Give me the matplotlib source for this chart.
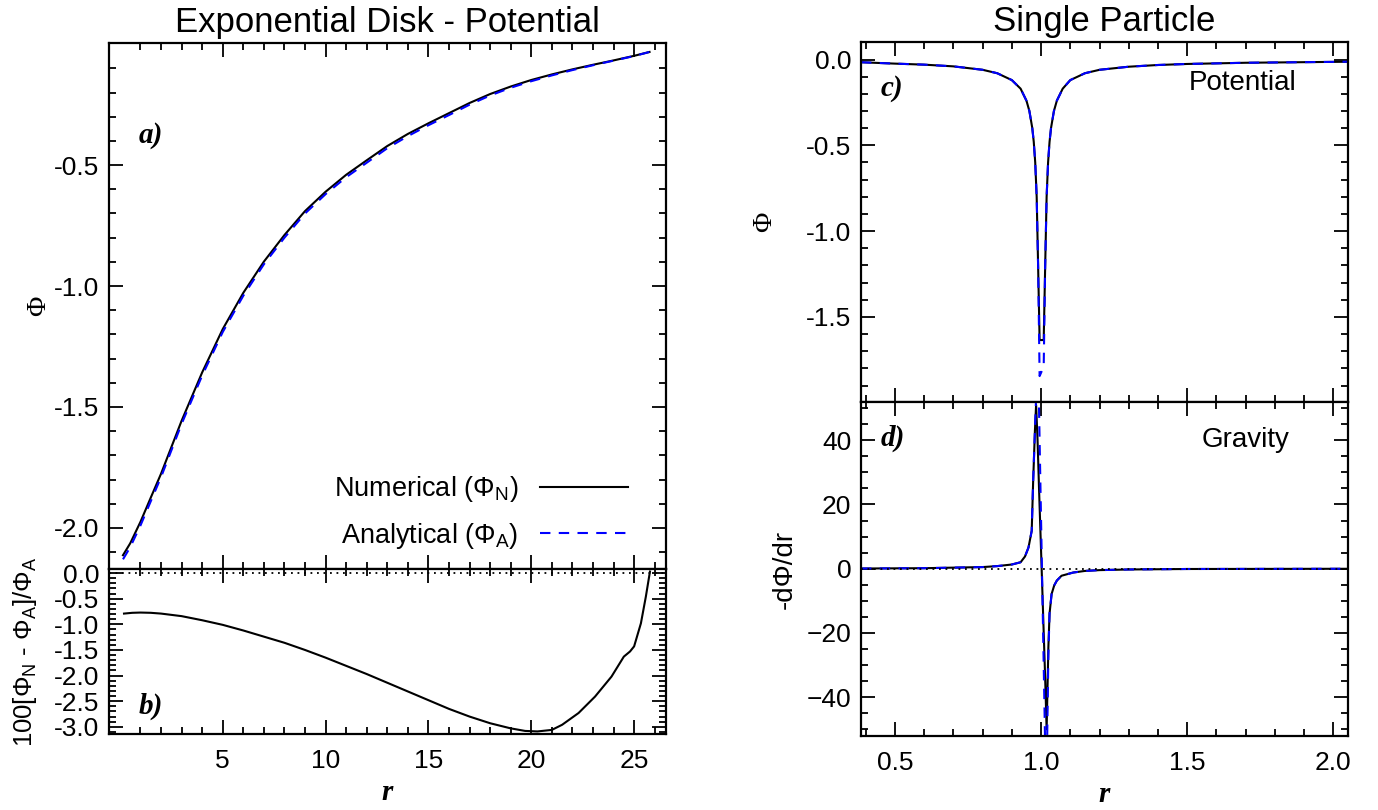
import numpy as np
import matplotlib
matplotlib.use("Agg")
import matplotlib.pyplot as plt
from matplotlib.ticker import FixedLocator, MultipleLocator, FormatStrFormatter

plt.rcParams["font.family"] = ["Liberation Sans", "DejaVu Sans"]
plt.rcParams["mathtext.fontset"] = "custom"
plt.rcParams["mathtext.rm"] = "Liberation Sans"
plt.rcParams["axes.linewidth"] = 1.6

# --- exponential disk: potential (a) and relative error (b) ---
r_disk = [0.15, 0.5, 1.0, 1.5, 2.0, 3.0, 4.0, 5.0, 6.0, 7.0, 8.0, 9.0, 10.0,
          11.0, 12.0, 13.0, 14.0, 15.0, 16.0, 17.0, 18.0, 19.0, 20.0, 21.0,
          22.0, 23.0, 24.0, 25.0, 25.75]
phi_analytical = [-2.13, -2.08, -1.99, -1.89, -1.79, -1.57, -1.37, -1.19, -1.04,
                  -0.91, -0.80, -0.70, -0.62, -0.55, -0.49, -0.43, -0.38, -0.335,
                  -0.293, -0.25, -0.212, -0.18, -0.153, -0.129, -0.107, -0.087,
                  -0.068, -0.049, -0.032]
phi_numerical = [-2.113, -2.064, -1.975, -1.875, -1.776, -1.557, -1.357, -1.178,
                 -1.028, -0.899, -0.789, -0.690, -0.610, -0.540, -0.480, -0.421,
                 -0.371, -0.327, -0.285, -0.243, -0.206, -0.175, -0.148, -0.125,
                 -0.104, -0.085, -0.067, -0.048, -0.032]

r_err = [0.2, 0.6, 1.0, 1.5, 2.0, 3.0, 4.0, 5.0, 6.0, 7.0, 8.0, 9.0, 10.0, 11.0,
         12.0, 13.0, 14.0, 15.0, 16.0, 17.0, 18.0, 19.0, 19.7, 20.3, 21.0, 21.5,
         22.3, 23.1, 23.9, 24.5, 24.8, 25.0, 25.33, 25.57, 25.77]
err_pct = [-0.79, -0.775, -0.77, -0.775, -0.79, -0.84, -0.92, -1.01, -1.12,
           -1.24, -1.36, -1.50, -1.65, -1.81, -1.97, -2.14, -2.31, -2.48, -2.65,
           -2.80, -2.93, -3.03, -3.08, -3.09, -3.06, -2.96, -2.73, -2.41, -2.02,
           -1.63, -1.53, -1.43, -0.98, -0.46, 0.03]

# --- single particle: potential (c) and gravity (d) ---
r_pt = [0.384, 0.5, 0.6, 0.7, 0.8, 0.85, 0.9, 0.93, 0.95, 0.96, 0.97, 0.975,
        0.98, 0.985, 0.99, 0.995, 1.009, 1.014, 1.019, 1.024, 1.029, 1.034,
        1.044, 1.054, 1.074, 1.1, 1.15, 1.2, 1.3, 1.4, 1.5, 1.7, 2.05]
phi_pt_num = [-0.016, -0.024, -0.03, -0.04, -0.06, -0.08, -0.12, -0.17, -0.24,
              -0.30, -0.40, -0.48, -0.60, -0.80, -1.21, -1.635, -1.635, -1.21,
              -0.80, -0.60, -0.48, -0.40, -0.30, -0.24, -0.17, -0.12, -0.08,
              -0.06, -0.042, -0.032, -0.026, -0.019, -0.013]
phi_pt_ana = [-0.016, -0.024, -0.03, -0.04, -0.06, -0.08, -0.12, -0.17, -0.24,
              -0.30, -0.40, -0.48, -0.60, -0.80, -1.21, -1.845, -1.79, -1.21,
              -0.80, -0.60, -0.48, -0.40, -0.30, -0.24, -0.17, -0.12, -0.08,
              -0.06, -0.042, -0.032, -0.026, -0.019, -0.013]

r_grav = [0.384, 0.6, 0.8, 0.85, 0.9, 0.93, 0.945, 0.957, 0.968, 0.973, 0.979,
          0.983, 0.988, 0.993, 1.002, 1.008, 1.014, 1.019, 1.025, 1.029, 1.036,
          1.045, 1.054, 1.07, 1.11, 1.15, 1.2, 1.3, 1.5, 2.05]
grav_num = [0.05, 0.15, 0.5, 0.8, 1.3, 2.0, 3.8, 6.6, 11.8, 27.4, 43.0, 51.0,
            40.0, 25.0, 0.0, -17.0, -34.0, -50.0, -24.5, -14.0, -7.9, -5.2,
            -3.7, -2.2, -1.2, -0.7, -0.45, -0.25, -0.1, -0.03]
r_grav_ana = [0.384, 0.6, 0.8, 0.85, 0.9, 0.93, 0.945, 0.957, 0.968, 0.973,
              0.979, 0.984, 0.99, 1.003, 1.016, 1.021, 1.025, 1.029, 1.036,
              1.045, 1.054, 1.07, 1.11, 1.15, 1.2, 1.3, 1.5, 2.05]
grav_ana = [0.05, 0.15, 0.5, 0.8, 1.3, 2.0, 3.8, 6.6, 11.8, 27.4, 43.0, 56.0,
            65.0, 0.0, -65.0, -52.0, -27.0, -14.0, -7.9, -5.2, -3.7, -2.2,
            -1.2, -0.7, -0.45, -0.25, -0.1, -0.03]

W, H = 1378, 810
TAG = dict(family="Liberation Serif", style="italic", weight="bold",
           fontsize=21, ha="left", va="center")
XLAB = dict(family="Liberation Serif", style="italic", weight="bold",
            fontsize=21, labelpad=4)
DOTTED = dict(color="black", lw=1.3, ls=(0, (1, 2.6)))


def box(x0, y0, x1, y1):
    return [x0 / W, 1 - y1 / H, (x1 - x0) / W, (y1 - y0) / H]


def idl_style(ax):
    ax.tick_params(which="both", direction="in", top=True, right=True,
                   labelsize=19, width=1.3, pad=7)
    ax.tick_params(which="major", length=10)
    ax.tick_params(which="minor", length=5)


fig = plt.figure(figsize=(W / 100, H / 100), dpi=100)
ax_a = fig.add_axes(box(109, 43, 666, 569))
ax_b = fig.add_axes(box(109, 569, 666, 734), sharex=ax_a)
ax_c = fig.add_axes(box(861, 42, 1348, 402))
ax_d = fig.add_axes(box(861, 402, 1348, 736), sharex=ax_c)

# a) potential
ax_a.plot(r_disk, phi_numerical, color="black", lw=1.5,
          label=r"Numerical ($\mathregular{\Phi_N}$)")
ax_a.plot(r_disk, phi_analytical, color="blue", lw=1.5, ls=(0, (5, 4)),
          label=r"Analytical ($\mathregular{\Phi_A}$)")
ax_a.set_xlim(-0.53, 26.55)
ax_a.set_ylim(-2.17, 0.005)
ax_a.yaxis.set_major_locator(FixedLocator([-2.0, -1.5, -1.0, -0.5]))
ax_a.yaxis.set_minor_locator(FixedLocator(np.arange(-2.1, -0.05, 0.1)))
ax_a.yaxis.set_major_formatter(FormatStrFormatter("%.1f"))
ax_a.xaxis.set_major_locator(FixedLocator([5, 10, 15, 20, 25]))
ax_a.xaxis.set_minor_locator(FixedLocator([k for k in range(1, 27) if k % 5]))
idl_style(ax_a)
ax_a.tick_params(labelbottom=False)
ax_a.set_ylabel("Φ", family="Liberation Serif", fontsize=20, labelpad=2)
ax_a.set_title("Exponential Disk - Potential", fontsize=25, pad=8)
ax_a.text(0.054, 0.825, "a)", transform=ax_a.transAxes, **TAG)
ax_a.legend(loc="lower right", frameon=False, fontsize=19.5, markerfirst=False,
            handlelength=3.25, handletextpad=0.8, labelspacing=0.62,
            bbox_to_anchor=(0.975, -0.012))

# b) relative error in percent
ax_b.plot(r_err, err_pct, color="black", lw=1.5)
ax_b.axhline(0.0, **DOTTED)
ax_b.set_ylim(-3.14, 0.08)
ax_b.yaxis.set_major_locator(FixedLocator(np.arange(-3.0, 0.01, 0.5)))
ax_b.yaxis.set_minor_locator(MultipleLocator(0.1))
ax_b.yaxis.set_major_formatter(FormatStrFormatter("%.1f"))
ax_b.xaxis.set_major_formatter(FormatStrFormatter("%d"))
idl_style(ax_b)
ax_b.tick_params(axis="x", pad=11)
ax_b.set_ylabel(r"100[$\mathregular{\Phi_N}$ - $\mathregular{\Phi_A}$]/$\mathregular{\Phi_A}$",
                fontsize=18.5, labelpad=11)
ax_b.set_xlabel("r", **XLAB)
ax_b.text(0.054, 0.17, "b)", transform=ax_b.transAxes, **TAG)

# c) single particle potential
ax_c.plot(r_pt, phi_pt_num, color="black", lw=1.5)
ax_c.plot(r_pt, phi_pt_ana, color="blue", lw=1.5, ls=(0, (5, 4)))
ax_c.set_xlim(0.384, 2.05)
ax_c.set_ylim(-1.996, 0.102)
ax_c.yaxis.set_major_locator(FixedLocator([-1.5, -1.0, -0.5, 0.0]))
ax_c.yaxis.set_minor_locator(MultipleLocator(0.1))
ax_c.yaxis.set_major_formatter(FormatStrFormatter("%.1f"))
ax_c.xaxis.set_major_locator(MultipleLocator(0.5))
ax_c.xaxis.set_minor_locator(MultipleLocator(0.1))
ax_c.xaxis.set_major_formatter(FormatStrFormatter("%.1f"))
idl_style(ax_c)
ax_c.tick_params(labelbottom=False)
ax_c.set_ylabel("Φ", family="Liberation Serif", fontsize=20, labelpad=21)
ax_c.set_title("Single Particle", fontsize=25, pad=8)
ax_c.text(0.04, 0.87, "c)", transform=ax_c.transAxes, **TAG)
ax_c.text(0.895, 0.885, "Potential", transform=ax_c.transAxes, fontsize=20,
          ha="right", va="center")

# d) single particle gravity
ax_d.plot(r_grav, grav_num, color="black", lw=1.5)
ax_d.plot(r_grav_ana, grav_ana, color="blue", lw=1.5, ls=(0, (5, 4)))
ax_d.axhline(0.0, **DOTTED)
ax_d.set_ylim(-52.1, 51.9)
ax_d.yaxis.set_major_locator(FixedLocator([-40, -20, 0, 20, 40]))
ax_d.yaxis.set_minor_locator(MultipleLocator(5))
idl_style(ax_d)
ax_d.tick_params(axis="x", pad=11)
ax_d.set_ylabel("-dΦ/dr", fontsize=20, labelpad=6)
ax_d.set_xlabel("r", **XLAB)
ax_d.text(0.04, 0.89, "d)", transform=ax_d.transAxes, **TAG)
ax_d.text(0.88, 0.885, "Gravity", transform=ax_d.transAxes, fontsize=20,
          ha="right", va="center")

fig.savefig("out.png", dpi=100)
